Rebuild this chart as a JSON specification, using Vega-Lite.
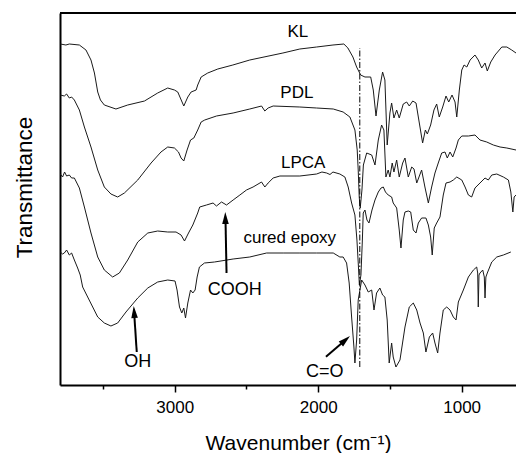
{
  "$schema": "https://vega.github.io/schema/vega-lite/v6.json",
  "autosize": {"type": "none"},
  "padding": {"left": 60, "top": 13, "right": 0, "bottom": 68},
  "width": 456,
  "height": 372,
  "config": {"view": {"stroke": null}, "font": "Liberation Sans"},
  "datasets": {
    "curves": [
      {"s":"KL","w":3798,"t":341},{"s":"KL","w":3759,"t":340},{"s":"KL","w":3735,"t":341},{"s":"KL","w":3665,"t":340},{"s":"KL","w":3619,"t":335},{"s":"KL","w":3584,"t":325},{"s":"KL","w":3560,"t":312},{"s":"KL","w":3537,"t":293},{"s":"KL","w":3518,"t":285},{"s":"KL","w":3491,"t":280},{"s":"KL","w":3410,"t":276},{"s":"KL","w":3328,"t":280},{"s":"KL","w":3211,"t":284},{"s":"KL","w":3119,"t":292},{"s":"KL","w":3049,"t":297},{"s":"KL","w":3002,"t":295},{"s":"KL","w":2979,"t":293},{"s":"KL","w":2937,"t":279},{"s":"KL","w":2909,"t":288},{"s":"KL","w":2886,"t":293},{"s":"KL","w":2851,"t":295},{"s":"KL","w":2840,"t":300},{"s":"KL","w":2816,"t":308},{"s":"KL","w":2770,"t":312},{"s":"KL","w":2700,"t":316},{"s":"KL","w":2595,"t":320},{"s":"KL","w":2477,"t":325},{"s":"KL","w":2246,"t":332},{"s":"KL","w":2128,"t":336},{"s":"KL","w":2011,"t":338},{"s":"KL","w":1897,"t":340},{"s":"KL","w":1821,"t":341},{"s":"KL","w":1793,"t":337},{"s":"KL","w":1758,"t":328},{"s":"KL","w":1732,"t":318},{"s":"KL","w":1704,"t":310},{"s":"KL","w":1674,"t":308},{"s":"KL","w":1634,"t":308},{"s":"KL","w":1616,"t":295},{"s":"KL","w":1597,"t":269},{"s":"KL","w":1574,"t":295},{"s":"KL","w":1551,"t":313},{"s":"KL","w":1535,"t":305},{"s":"KL","w":1519,"t":240},{"s":"KL","w":1500,"t":272},{"s":"KL","w":1488,"t":282},{"s":"KL","w":1472,"t":267},{"s":"KL","w":1453,"t":275},{"s":"KL","w":1435,"t":267},{"s":"KL","w":1407,"t":281},{"s":"KL","w":1383,"t":283},{"s":"KL","w":1365,"t":279},{"s":"KL","w":1341,"t":284},{"s":"KL","w":1318,"t":282},{"s":"KL","w":1295,"t":262},{"s":"KL","w":1272,"t":242},{"s":"KL","w":1253,"t":255},{"s":"KL","w":1239,"t":251},{"s":"KL","w":1216,"t":260},{"s":"KL","w":1193,"t":275},{"s":"KL","w":1174,"t":281},{"s":"KL","w":1156,"t":268},{"s":"KL","w":1132,"t":278},{"s":"KL","w":1109,"t":289},{"s":"KL","w":1090,"t":283},{"s":"KL","w":1067,"t":290},{"s":"KL","w":1046,"t":283},{"s":"KL","w":1034,"t":268},{"s":"KL","w":1016,"t":295},{"s":"KL","w":999,"t":315},{"s":"KL","w":983,"t":320},{"s":"KL","w":964,"t":318},{"s":"KL","w":941,"t":325},{"s":"KL","w":907,"t":330},{"s":"KL","w":884,"t":325},{"s":"KL","w":860,"t":317},{"s":"KL","w":837,"t":322},{"s":"KL","w":821,"t":314},{"s":"KL","w":797,"t":323},{"s":"KL","w":767,"t":330},{"s":"KL","w":720,"t":338},{"s":"KL","w":685,"t":338},{"s":"KL","w":651,"t":335},{"s":"KL","w":621,"t":332},

      {"s":"PDL","w":3798,"t":290},{"s":"PDL","w":3770,"t":289},{"s":"PDL","w":3754,"t":291},{"s":"PDL","w":3735,"t":287},{"s":"PDL","w":3719,"t":288},{"s":"PDL","w":3700,"t":285},{"s":"PDL","w":3665,"t":275},{"s":"PDL","w":3630,"t":258},{"s":"PDL","w":3584,"t":238},{"s":"PDL","w":3537,"t":215},{"s":"PDL","w":3491,"t":198},{"s":"PDL","w":3445,"t":191},{"s":"PDL","w":3398,"t":188},{"s":"PDL","w":3351,"t":192},{"s":"PDL","w":3258,"t":205},{"s":"PDL","w":3165,"t":222},{"s":"PDL","w":3096,"t":233},{"s":"PDL","w":3049,"t":238},{"s":"PDL","w":3002,"t":237},{"s":"PDL","w":2974,"t":233},{"s":"PDL","w":2956,"t":227},{"s":"PDL","w":2937,"t":224},{"s":"PDL","w":2914,"t":235},{"s":"PDL","w":2890,"t":245},{"s":"PDL","w":2867,"t":247},{"s":"PDL","w":2840,"t":255},{"s":"PDL","w":2816,"t":263},{"s":"PDL","w":2791,"t":265},{"s":"PDL","w":2709,"t":269},{"s":"PDL","w":2593,"t":272},{"s":"PDL","w":2477,"t":276},{"s":"PDL","w":2395,"t":279},{"s":"PDL","w":2372,"t":274},{"s":"PDL","w":2349,"t":277},{"s":"PDL","w":2314,"t":279},{"s":"PDL","w":2128,"t":278},{"s":"PDL","w":2011,"t":277},{"s":"PDL","w":1895,"t":276},{"s":"PDL","w":1826,"t":273},{"s":"PDL","w":1779,"t":268},{"s":"PDL","w":1744,"t":255},{"s":"PDL","w":1728,"t":235},{"s":"PDL","w":1721,"t":215},{"s":"PDL","w":1714,"t":188},{"s":"PDL","w":1707,"t":177},{"s":"PDL","w":1695,"t":195},{"s":"PDL","w":1685,"t":220},{"s":"PDL","w":1662,"t":232},{"s":"PDL","w":1627,"t":230},{"s":"PDL","w":1604,"t":220},{"s":"PDL","w":1581,"t":245},{"s":"PDL","w":1558,"t":260},{"s":"PDL","w":1542,"t":255},{"s":"PDL","w":1528,"t":208},{"s":"PDL","w":1512,"t":215},{"s":"PDL","w":1500,"t":208},{"s":"PDL","w":1484,"t":222},{"s":"PDL","w":1472,"t":213},{"s":"PDL","w":1453,"t":225},{"s":"PDL","w":1435,"t":208},{"s":"PDL","w":1411,"t":222},{"s":"PDL","w":1395,"t":227},{"s":"PDL","w":1372,"t":208},{"s":"PDL","w":1348,"t":218},{"s":"PDL","w":1332,"t":216},{"s":"PDL","w":1313,"t":202},{"s":"PDL","w":1279,"t":215},{"s":"PDL","w":1256,"t":198},{"s":"PDL","w":1232,"t":182},{"s":"PDL","w":1209,"t":198},{"s":"PDL","w":1186,"t":212},{"s":"PDL","w":1163,"t":222},{"s":"PDL","w":1139,"t":232},{"s":"PDL","w":1116,"t":233},{"s":"PDL","w":1100,"t":227},{"s":"PDL","w":1081,"t":233},{"s":"PDL","w":1062,"t":228},{"s":"PDL","w":1039,"t":237},{"s":"PDL","w":1023,"t":245},{"s":"PDL","w":999,"t":249},{"s":"PDL","w":953,"t":249},{"s":"PDL","w":907,"t":250},{"s":"PDL","w":872,"t":245},{"s":"PDL","w":825,"t":243},{"s":"PDL","w":779,"t":240},{"s":"PDL","w":732,"t":238},{"s":"PDL","w":685,"t":237},{"s":"PDL","w":621,"t":235},

      {"s":"LPCA","w":3798,"t":211},{"s":"LPCA","w":3782,"t":208},{"s":"LPCA","w":3768,"t":213},{"s":"LPCA","w":3754,"t":209},{"s":"LPCA","w":3735,"t":210},{"s":"LPCA","w":3719,"t":207},{"s":"LPCA","w":3700,"t":207},{"s":"LPCA","w":3665,"t":197},{"s":"LPCA","w":3630,"t":178},{"s":"LPCA","w":3584,"t":152},{"s":"LPCA","w":3537,"t":128},{"s":"LPCA","w":3491,"t":115},{"s":"LPCA","w":3433,"t":108},{"s":"LPCA","w":3386,"t":112},{"s":"LPCA","w":3328,"t":125},{"s":"LPCA","w":3258,"t":143},{"s":"LPCA","w":3188,"t":152},{"s":"LPCA","w":3119,"t":154},{"s":"LPCA","w":3049,"t":153},{"s":"LPCA","w":2991,"t":153},{"s":"LPCA","w":2956,"t":150},{"s":"LPCA","w":2932,"t":144},{"s":"LPCA","w":2904,"t":152},{"s":"LPCA","w":2874,"t":160},{"s":"LPCA","w":2840,"t":172},{"s":"LPCA","w":2826,"t":178},{"s":"LPCA","w":2779,"t":180},{"s":"LPCA","w":2733,"t":182},{"s":"LPCA","w":2709,"t":179},{"s":"LPCA","w":2674,"t":183},{"s":"LPCA","w":2639,"t":180},{"s":"LPCA","w":2593,"t":185},{"s":"LPCA","w":2546,"t":190},{"s":"LPCA","w":2500,"t":195},{"s":"LPCA","w":2454,"t":198},{"s":"LPCA","w":2395,"t":203},{"s":"LPCA","w":2372,"t":198},{"s":"LPCA","w":2349,"t":202},{"s":"LPCA","w":2314,"t":207},{"s":"LPCA","w":2267,"t":209},{"s":"LPCA","w":2128,"t":209},{"s":"LPCA","w":2011,"t":211},{"s":"LPCA","w":1974,"t":213},{"s":"LPCA","w":1941,"t":212},{"s":"LPCA","w":1918,"t":210.5},{"s":"LPCA","w":1897,"t":213},{"s":"LPCA","w":1849,"t":211},{"s":"LPCA","w":1814,"t":208},{"s":"LPCA","w":1791,"t":198},{"s":"LPCA","w":1767,"t":182},{"s":"LPCA","w":1744,"t":170},{"s":"LPCA","w":1730,"t":145},{"s":"LPCA","w":1720,"t":120},{"s":"LPCA","w":1713,"t":100},{"s":"LPCA","w":1702,"t":110},{"s":"LPCA","w":1692,"t":145},{"s":"LPCA","w":1686,"t":172},{"s":"LPCA","w":1674,"t":175},{"s":"LPCA","w":1660,"t":165},{"s":"LPCA","w":1646,"t":162},{"s":"LPCA","w":1625,"t":175},{"s":"LPCA","w":1604,"t":185},{"s":"LPCA","w":1581,"t":193},{"s":"LPCA","w":1562,"t":197},{"s":"LPCA","w":1546,"t":198},{"s":"LPCA","w":1531,"t":193},{"s":"LPCA","w":1512,"t":190},{"s":"LPCA","w":1488,"t":188},{"s":"LPCA","w":1477,"t":182},{"s":"LPCA","w":1453,"t":177},{"s":"LPCA","w":1435,"t":155},{"s":"LPCA","w":1423,"t":137},{"s":"LPCA","w":1407,"t":165},{"s":"LPCA","w":1395,"t":173},{"s":"LPCA","w":1372,"t":174},{"s":"LPCA","w":1355,"t":173},{"s":"LPCA","w":1337,"t":155},{"s":"LPCA","w":1318,"t":152},{"s":"LPCA","w":1302,"t":162},{"s":"LPCA","w":1279,"t":167},{"s":"LPCA","w":1249,"t":167},{"s":"LPCA","w":1232,"t":160},{"s":"LPCA","w":1216,"t":148},{"s":"LPCA","w":1205,"t":130},{"s":"LPCA","w":1191,"t":157},{"s":"LPCA","w":1174,"t":162},{"s":"LPCA","w":1151,"t":168},{"s":"LPCA","w":1128,"t":190},{"s":"LPCA","w":1109,"t":202},{"s":"LPCA","w":1081,"t":203},{"s":"LPCA","w":1058,"t":205},{"s":"LPCA","w":1034,"t":208},{"s":"LPCA","w":999,"t":205},{"s":"LPCA","w":976,"t":198},{"s":"LPCA","w":953,"t":190},{"s":"LPCA","w":930,"t":188},{"s":"LPCA","w":907,"t":197},{"s":"LPCA","w":872,"t":202},{"s":"LPCA","w":837,"t":207},{"s":"LPCA","w":814,"t":205},{"s":"LPCA","w":790,"t":210},{"s":"LPCA","w":755,"t":211},{"s":"LPCA","w":709,"t":208},{"s":"LPCA","w":674,"t":205},{"s":"LPCA","w":657,"t":193},{"s":"LPCA","w":643,"t":173},{"s":"LPCA","w":634,"t":188},{"s":"LPCA","w":621,"t":190},

      {"s":"EP","w":3798,"t":133},{"s":"EP","w":3782,"t":131},{"s":"EP","w":3770,"t":132},{"s":"EP","w":3754,"t":135},{"s":"EP","w":3735,"t":130},{"s":"EP","w":3719,"t":132},{"s":"EP","w":3700,"t":125},{"s":"EP","w":3677,"t":117},{"s":"EP","w":3659,"t":110},{"s":"EP","w":3642,"t":98},{"s":"EP","w":3607,"t":88},{"s":"EP","w":3572,"t":78},{"s":"EP","w":3537,"t":68},{"s":"EP","w":3491,"t":62},{"s":"EP","w":3445,"t":59},{"s":"EP","w":3398,"t":62},{"s":"EP","w":3340,"t":73},{"s":"EP","w":3258,"t":87},{"s":"EP","w":3188,"t":97},{"s":"EP","w":3119,"t":103},{"s":"EP","w":3049,"t":105},{"s":"EP","w":2998,"t":104},{"s":"EP","w":2984,"t":95},{"s":"EP","w":2967,"t":78},{"s":"EP","w":2951,"t":72},{"s":"EP","w":2937,"t":77},{"s":"EP","w":2925,"t":67},{"s":"EP","w":2909,"t":82},{"s":"EP","w":2890,"t":95},{"s":"EP","w":2874,"t":92},{"s":"EP","w":2858,"t":95},{"s":"EP","w":2844,"t":108},{"s":"EP","w":2828,"t":118},{"s":"EP","w":2793,"t":122},{"s":"EP","w":2723,"t":123},{"s":"EP","w":2593,"t":126},{"s":"EP","w":2477,"t":128},{"s":"EP","w":2360,"t":132},{"s":"EP","w":2244,"t":132},{"s":"EP","w":2128,"t":132},{"s":"EP","w":2011,"t":132},{"s":"EP","w":1895,"t":132},{"s":"EP","w":1849,"t":128},{"s":"EP","w":1826,"t":128},{"s":"EP","w":1802,"t":122},{"s":"EP","w":1784,"t":102},{"s":"EP","w":1767,"t":68},{"s":"EP","w":1751,"t":38},{"s":"EP","w":1744,"t":22},{"s":"EP","w":1732,"t":45},{"s":"EP","w":1721,"t":85},{"s":"EP","w":1697,"t":105},{"s":"EP","w":1674,"t":100},{"s":"EP","w":1651,"t":93},{"s":"EP","w":1627,"t":95},{"s":"EP","w":1611,"t":75},{"s":"EP","w":1593,"t":92},{"s":"EP","w":1570,"t":97},{"s":"EP","w":1551,"t":90},{"s":"EP","w":1535,"t":88},{"s":"EP","w":1519,"t":65},{"s":"EP","w":1505,"t":22},{"s":"EP","w":1488,"t":42},{"s":"EP","w":1477,"t":28},{"s":"EP","w":1458,"t":18},{"s":"EP","w":1430,"t":25},{"s":"EP","w":1395,"t":58},{"s":"EP","w":1365,"t":78},{"s":"EP","w":1337,"t":82},{"s":"EP","w":1313,"t":75},{"s":"EP","w":1290,"t":62},{"s":"EP","w":1267,"t":52},{"s":"EP","w":1249,"t":33},{"s":"EP","w":1225,"t":48},{"s":"EP","w":1202,"t":52},{"s":"EP","w":1186,"t":42},{"s":"EP","w":1167,"t":32},{"s":"EP","w":1151,"t":52},{"s":"EP","w":1128,"t":75},{"s":"EP","w":1104,"t":78},{"s":"EP","w":1081,"t":75},{"s":"EP","w":1058,"t":68},{"s":"EP","w":1039,"t":65},{"s":"EP","w":1023,"t":83},{"s":"EP","w":988,"t":95},{"s":"EP","w":953,"t":108},{"s":"EP","w":918,"t":115},{"s":"EP","w":895,"t":118},{"s":"EP","w":888,"t":112},{"s":"EP","w":884,"t":78},{"s":"EP","w":879,"t":110},{"s":"EP","w":872,"t":112},{"s":"EP","w":853,"t":115},{"s":"EP","w":842,"t":108},{"s":"EP","w":837,"t":87},{"s":"EP","w":831,"t":108},{"s":"EP","w":821,"t":112},{"s":"EP","w":790,"t":123},{"s":"EP","w":755,"t":128},{"s":"EP","w":709,"t":130},{"s":"EP","w":657,"t":133}
    ],
    "labels": [
      {"label":"KL","w":2142,"t":347.7,"g":"name"},
      {"label":"PDL","w":2149,"t":287,"g":"name"},
      {"label":"LPCA","w":2105,"t":217,"g":"name"},
      {"label":"cured epoxy","w":2198,"t":142,"g":"name"},
      {"label":"COOH","w":2581,"t":90,"g":"group"},
      {"label":"OH","w":3258,"t":18.3,"g":"group"},
      {"label":"C=O","w":1955,"t":8.3,"g":"group"}
    ],
    "arrows": [
      {"a":"OH","w1":3265,"t1":33,"w2":3282,"t2":70,"hw":3283,"ht":73},
      {"a":"COOH","w1":2639,"t1":112,"w2":2646,"t2":164,"hw":2647,"ht":167},
      {"a":"C=O","w1":1946,"t1":28.3,"w2":1826,"t2":43,"hw":1810,"ht":45}
    ],
    "marker": [{"w":1710,"t1":18,"t2":337}],
    "frame": [{"t":372}]
  },
  "layer": [
    {
      "data": {"name": "curves"},
      "mark": {"type": "line", "color": "#1a1a1a", "strokeWidth": 1, "clip": true},
      "encoding": {
        "x": {
          "field": "w", "type": "quantitative",
          "scale": {"domain": [3800, 621], "nice": false, "zero": false},
          "axis": {
            "title": "Wavenumber (cm⁻¹)",
            "values": [3500, 3000, 2500, 2000, 1500, 1000],
            "format": "d",
            "labelExpr": "datum.value % 1000 === 0 ? datum.label : ''",
            "labelOverlap": false,
            "labelFont": "Liberation Sans", "labelFontSize": 17, "labelColor": "black", "labelPadding": 7,
            "tickSize": {"condition": {"test": "datum.value % 1000 === 0", "value": 7}, "value": 4},
            "tickColor": "black", "tickWidth": 1.5,
            "grid": false,
            "domainColor": "black", "domainWidth": 2,
            "titleFont": "Liberation Sans", "titleFontSize": 21, "titleFontWeight": "normal", "titleColor": "black",
            "titleX": 238, "titleY": 64, "titleBaseline": "alphabetic", "titleAlign": "center"
          }
        },
        "y": {
          "field": "t", "type": "quantitative",
          "scale": {"domain": [0, 372], "nice": false, "zero": false},
          "axis": {
            "title": "Transmittance",
            "ticks": false, "labels": false, "grid": false,
            "domainColor": "black", "domainWidth": 2,
            "titleFont": "Liberation Sans", "titleFontSize": 22.5, "titleFontWeight": "normal", "titleColor": "black",
            "titleAngle": -90, "titleX": -29, "titleY": 174, "titleBaseline": "alphabetic", "titleAlign": "center"
          }
        },
        "detail": {"field": "s", "type": "nominal"}
      }
    },
    {
      "data": {"name": "marker"},
      "mark": {"type": "rule", "color": "black", "strokeWidth": 1, "strokeDash": [6, 2, 1.5, 2]},
      "encoding": {
        "x": {"field": "w", "type": "quantitative"},
        "y": {"field": "t1", "type": "quantitative"},
        "y2": {"field": "t2"}
      }
    },
    {
      "data": {"name": "frame"},
      "mark": {"type": "rule", "color": "black", "strokeWidth": 2},
      "encoding": {
        "y": {"field": "t", "type": "quantitative"}
      }
    },
    {
      "data": {"name": "arrows"},
      "mark": {"type": "rule", "color": "black", "strokeWidth": 2},
      "encoding": {
        "x": {"field": "w1", "type": "quantitative"},
        "y": {"field": "t1", "type": "quantitative"},
        "x2": {"field": "w2"},
        "y2": {"field": "t2"}
      }
    },
    {
      "data": {"name": "arrows"},
      "transform": [{"filter": "datum.a === 'OH'"}],
      "mark": {"type": "point", "shape": "M0,-1L0.55,1L-0.55,1Z", "size": 144, "filled": true, "color": "black", "opacity": 1, "angle": -4},
      "encoding": {
        "x": {"field": "hw", "type": "quantitative"},
        "y": {"field": "ht", "type": "quantitative"}
      }
    },
    {
      "data": {"name": "arrows"},
      "transform": [{"filter": "datum.a === 'COOH'"}],
      "mark": {"type": "point", "shape": "M0,-1L0.55,1L-0.55,1Z", "size": 144, "filled": true, "color": "black", "opacity": 1, "angle": -1},
      "encoding": {
        "x": {"field": "hw", "type": "quantitative"},
        "y": {"field": "ht", "type": "quantitative"}
      }
    },
    {
      "data": {"name": "arrows"},
      "transform": [{"filter": "datum.a === 'C=O'"}],
      "mark": {"type": "point", "shape": "M0,-1L0.55,1L-0.55,1Z", "size": 144, "filled": true, "color": "black", "opacity": 1, "angle": 49},
      "encoding": {
        "x": {"field": "hw", "type": "quantitative"},
        "y": {"field": "ht", "type": "quantitative"}
      }
    },
    {
      "data": {"name": "labels"},
      "transform": [{"filter": "datum.g === 'name'"}],
      "mark": {"type": "text", "font": "Liberation Sans", "fontSize": 17, "color": "black", "align": "center", "baseline": "alphabetic"},
      "encoding": {
        "x": {"field": "w", "type": "quantitative"},
        "y": {"field": "t", "type": "quantitative"},
        "text": {"field": "label"}
      }
    },
    {
      "data": {"name": "labels"},
      "transform": [{"filter": "datum.g === 'group'"}],
      "mark": {"type": "text", "font": "Liberation Sans", "fontSize": 18, "color": "black", "align": "center", "baseline": "alphabetic"},
      "encoding": {
        "x": {"field": "w", "type": "quantitative"},
        "y": {"field": "t", "type": "quantitative"},
        "text": {"field": "label"}
      }
    }
  ]
}
